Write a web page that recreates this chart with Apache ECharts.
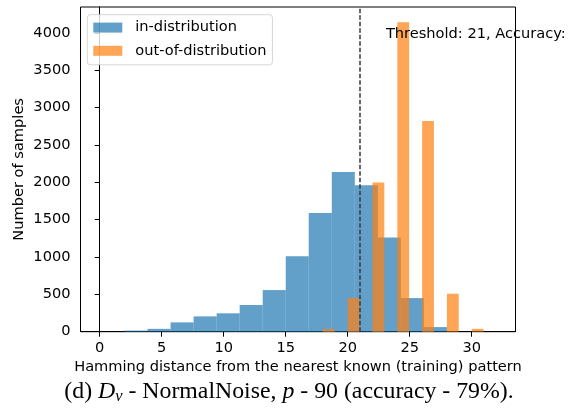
<!DOCTYPE html>
<html>
<head>
<meta charset="utf-8">
<script src="https://cdn.jsdelivr.net/npm/echarts@6/dist/echarts.min.js"></script>
<style>
html,body{margin:0;padding:0;background:#fff;}
#chart{width:582px;height:410px;}
</style>
</head>
<body>
<div id="chart"></div>
<script>
// ---- data ----
const blueBinStarts = [2, 3.857, 5.714, 7.571, 9.429, 11.286, 13.143, 15, 16.857, 18.714, 20.571, 22.429, 24.286, 26.143];
const blueBinEnds   = [3.857, 5.714, 7.571, 9.429, 11.286, 13.143, 15, 16.857, 18.714, 20.571, 22.429, 24.286, 26.143, 28];
const blueCounts    = [15, 38, 125, 205, 246, 357, 557, 1011, 1590, 2138, 1960, 1261, 450, 62];

const orangeBinStarts = [18, 20, 22, 24, 26, 28, 30];
const orangeBinEnds   = [18.95, 20.95, 22.95, 24.95, 26.95, 28.95, 30.95];
const orangeCounts    = [36, 450, 1997, 4140, 2821, 508, 38];

const xTicks = [0, 5, 10, 15, 20, 25, 30];
const yTicks = [0, 500, 1000, 1500, 2000, 2500, 3000, 3500, 4000];
const threshold = 21;
const annotationText = 'Threshold: 21, Accuracy: 0.79';
const annotationPos = [23, 3985];
const seriesNames = ['in-distribution', 'out-of-distribution'];

// ---- chart ----
const FONT = 'DejaVu Sans';
const FS = 14.6;
function toRows(starts, ends, counts) {
  return starts.map((s, i) => [s, ends[i], counts[i]]);
}
function renderBar(params, api) {
  const p0 = api.coord([api.value(0), api.value(2)]);
  const p1 = api.coord([api.value(1), 0]);
  return {
    type: 'rect',
    shape: { x: p0[0], y: p0[1], width: p1[0] - p0[0], height: p1[1] - p0[1] },
    style: api.style()
  };
}

const chart = echarts.init(document.getElementById('chart'), null, { renderer: 'canvas' });
chart.setOption({
  animation: false,
  backgroundColor: '#fff',
  grid: { left: 80.5, right: 66.5, top: 7, bottom: 78.3, show: true, borderColor: '#000', borderWidth: 1, backgroundColor: 'transparent' },
  legend: {
    data: seriesNames,
    orient: 'vertical',
    left: 87.3,
    top: 14.7,
    itemWidth: 29,
    itemHeight: 10,
    itemGap: 8.2,
    padding: [5.4, 6, 6.5, 6],
    backgroundColor: 'rgba(255,255,255,0.8)',
    borderColor: 'rgba(204,204,204,0.8)',
    borderWidth: 1,
    borderRadius: 3,
    icon: 'rect',
    selectedMode: false,
    textStyle: { fontFamily: FONT, fontSize: FS, color: '#000', lineHeight: 14.5, padding: [0, 0, 0, 8] }
  },
  xAxis: {
    type: 'value',
    min: -1.55,
    max: 33.53,
    name: 'Hamming distance from the nearest known (training) pattern',
    nameLocation: 'middle',
    nameGap: 28,
    nameMoveOverlap: false,
    nameTextStyle: { fontFamily: FONT, fontSize: FS, color: '#000' },
    splitLine: { show: false },
    axisLine: { show: true, onZero: false, lineStyle: { color: '#000', width: 1 } },
    axisTick: { show: true, length: 5, lineStyle: { color: '#000', width: 1 }, customValues: xTicks },
    axisLabel: { fontFamily: FONT, fontSize: FS, color: '#000', margin: 9, customValues: xTicks, formatter: v => String(v) }
  },
  yAxis: {
    type: 'value',
    min: 0,
    max: 4345,
    name: 'Number of samples',
    nameLocation: 'middle',
    nameGap: 54,
    nameMoveOverlap: false,
    nameTextStyle: { fontFamily: FONT, fontSize: FS, color: '#000' },
    splitLine: { show: false },
    axisLine: { show: true, lineStyle: { color: '#000', width: 1 } },
    axisTick: { show: true, length: 5, lineStyle: { color: '#000', width: 1 }, customValues: yTicks },
    axisLabel: { fontFamily: FONT, fontSize: FS, color: '#000', margin: 10, customValues: yTicks, formatter: v => String(v) }
  },
  series: [
    {
      name: seriesNames[0],
      type: 'custom',
      renderItem: renderBar,
      itemStyle: { color: 'rgba(31,119,180,0.7)' },
      encode: { x: [0, 1], y: 2 },
      data: toRows(blueBinStarts, blueBinEnds, blueCounts)
    },
    {
      name: seriesNames[1],
      type: 'custom',
      renderItem: renderBar,
      itemStyle: { color: 'rgba(255,127,14,0.7)' },
      encode: { x: [0, 1], y: 2 },
      data: toRows(orangeBinStarts, orangeBinEnds, orangeCounts)
    },
    {
      name: 'threshold',
      type: 'line',
      data: [],
      silent: true,
      markLine: {
        silent: true,
        symbol: ['none', 'none'],
        label: { show: false },
        lineStyle: { color: '#3a3a3a', width: 1.5, type: [4.5, 2] },
        data: [{ xAxis: threshold }]
      },
      markPoint: {
        silent: true,
        symbol: 'circle',
        symbolSize: 0,
        label: {
          show: true,
          position: 'right',
          distance: 1,
          formatter: annotationText,
          fontFamily: FONT,
          fontSize: FS,
          color: '#000',
          width: 188,
          overflow: 'truncate',
          ellipsis: ''
        },
        data: [{ coord: annotationPos }]
      }
    }
  ],
  graphic: [
    {
      type: 'text',
      x: 289,
      y: 392,
      style: {
        text: '{n|(d) }{i|D}{s|v}{n| - NormalNoise, }{i|p}{n| - 90 (accuracy - 79%).}',
        textAlign: 'center',
        textVerticalAlign: 'middle',
        rich: {
          n: { fontFamily: 'Liberation Serif', fontSize: 23.8, color: '#000', lineHeight: 26 },
          i: { fontFamily: 'Liberation Serif', fontSize: 23.8, fontStyle: 'italic', color: '#000', lineHeight: 26 },
          s: { fontFamily: 'Liberation Serif', fontSize: 16.5, fontStyle: 'italic', color: '#000', lineHeight: 26, verticalAlign: 'bottom', padding: [7, 0, 0, 0] }
        }
      }
    }
  ]
});
</script>
</body>
</html>
